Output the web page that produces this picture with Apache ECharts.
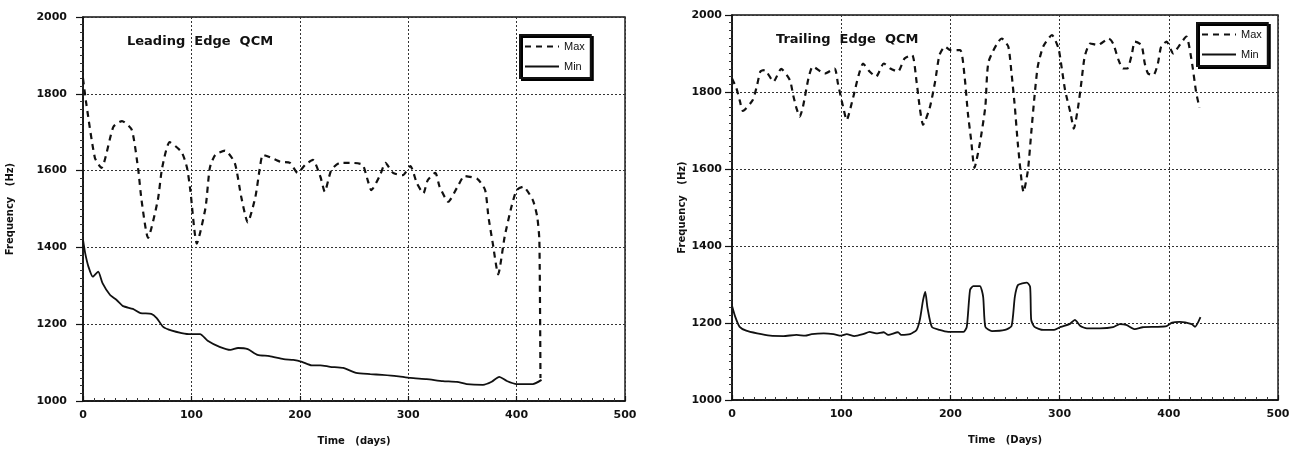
<!DOCTYPE html>
<html>
<head>
<meta charset="utf-8">
<script src="https://cdn.jsdelivr.net/npm/echarts@6/dist/echarts.min.js"></script>
<style>
html,body{margin:0;padding:0;background:#fff;}
#chart{width:1301px;height:452px;}
</style>
</head>
<body>
<div id="chart"></div>
<script>
// ---- Data ----
const xTicks = [0, 100, 200, 300, 400, 500];
const yTicks = [1000, 1200, 1400, 1600, 1800, 2000];
const seriesNames = ['Max', 'Min'];

// Leading Edge QCM — Max (dashed)
const leadMaxDays = [0, 3, 11, 17, 28, 36, 45, 51, 54, 60, 69, 73, 80, 91, 96, 99, 105, 113, 117, 122, 131, 140, 146, 152, 159, 163, 166, 174, 182, 191, 198, 205, 212, 219, 223, 229, 237, 249, 258, 262, 266, 274, 279, 286, 295, 302, 308, 314, 318, 325, 329, 337, 345, 352, 364, 371, 374, 378, 383, 389, 395, 400, 406, 415, 419, 421, 422];
const leadMaxVals = [1840, 1775, 1633, 1607, 1714, 1729, 1706, 1601, 1523, 1425, 1523, 1607, 1674, 1648, 1607, 1549, 1410, 1503, 1607, 1641, 1652, 1620, 1531, 1465, 1531, 1604, 1641, 1633, 1623, 1620, 1594, 1615, 1628, 1584, 1545, 1601, 1620, 1620, 1615, 1581, 1549, 1588, 1620, 1594, 1588, 1612, 1567, 1541, 1575, 1594, 1558, 1519, 1555, 1586, 1578, 1549, 1480, 1411, 1330, 1428, 1503, 1549, 1558, 1523, 1480, 1419, 1060];

// Leading Edge QCM — Min (solid)
const leadMinDays = [0, 2, 5, 9, 14, 18, 25, 31, 37, 46, 53, 63, 68, 74, 82, 91, 99, 108, 115, 126, 136, 143, 152, 161, 172, 185, 194, 202, 211, 219, 228, 240, 252, 265, 276, 289, 302, 317, 332, 345, 354, 369, 377, 384, 391, 400, 415, 423];
const leadMinVals = [1420, 1385, 1350, 1324, 1337, 1307, 1276, 1263, 1247, 1240, 1229, 1227, 1216, 1193, 1183, 1177, 1174, 1174, 1157, 1141, 1133, 1138, 1135, 1120, 1117, 1109, 1107, 1102, 1093, 1093, 1089, 1086, 1073, 1070, 1068, 1065, 1060, 1057, 1052, 1050, 1044, 1042, 1050, 1063, 1052, 1044, 1044, 1055];

// Trailing Edge QCM — Max (dashed)
const trailMaxDays = [0, 4, 7, 10, 19, 23, 26, 30, 38, 45, 53, 56, 59, 62, 65, 70, 74, 85, 94, 97, 102, 105, 110, 113, 116, 120, 126, 132, 139, 145, 152, 158, 165, 169, 172, 175, 181, 186, 190, 195, 200, 209, 213, 216, 219, 222, 227, 232, 235, 247, 253, 256, 259, 262, 267, 271, 274, 277, 280, 285, 293, 299, 302, 305, 310, 313, 317, 320, 323, 328, 335, 345, 349, 354, 358, 362, 366, 369, 375, 378, 381, 386, 390, 393, 398, 404, 409, 416, 421, 425, 428];
const trailMaxVals = [1835, 1810, 1779, 1751, 1779, 1818, 1853, 1857, 1827, 1860, 1831, 1792, 1758, 1736, 1762, 1835, 1866, 1848, 1861, 1822, 1758, 1727, 1775, 1810, 1844, 1874, 1853, 1840, 1874, 1861, 1853, 1887, 1896, 1827, 1758, 1715, 1758, 1827, 1896, 1918, 1909, 1909, 1840, 1745, 1675, 1603, 1667, 1762, 1879, 1939, 1918, 1848, 1762, 1658, 1540, 1597, 1693, 1788, 1866, 1918, 1948, 1913, 1861, 1805, 1745, 1705, 1762, 1827, 1892, 1926, 1922, 1939, 1926, 1883, 1861, 1861, 1896, 1931, 1922, 1874, 1848, 1844, 1874, 1918, 1931, 1900, 1918, 1944, 1880, 1800, 1760];

// Trailing Edge QCM — Min (solid)
const trailMinDays = [0, 3, 7, 13, 23, 35, 47, 59, 67, 73, 84, 93, 100, 105, 112, 120, 126, 132, 139, 143, 152, 155, 163, 169, 172, 175, 177, 179, 183, 190, 198, 212, 215, 218, 221, 227, 230, 232, 238, 250, 256, 259, 262, 270, 273, 274, 277, 285, 295, 301, 309, 314, 319, 325, 337, 349, 355, 361, 369, 376, 389, 398, 403, 410, 421, 424, 429];
const trailMinVals = [1245, 1216, 1190, 1180, 1173, 1167, 1166, 1169, 1167, 1171, 1173, 1171, 1167, 1171, 1166, 1171, 1177, 1173, 1176, 1169, 1176, 1169, 1171, 1182, 1208, 1260, 1281, 1240, 1190, 1182, 1177, 1177, 1190, 1286, 1296, 1296, 1268, 1190, 1179, 1182, 1192, 1268, 1299, 1305, 1294, 1208, 1190, 1182, 1182, 1190, 1197, 1208, 1192, 1186, 1186, 1189, 1197, 1195, 1184, 1189, 1190, 1192, 1201, 1203, 1197, 1190, 1215];

const panelTitles = ['Leading  Edge  QCM', 'Trailing  Edge  QCM'];
const xNames = ['Time   (days)', 'Time   (Days)'];
const yName = 'Frequency   (Hz)';

// ---- Chart ----
const pair = (d, v) => d.map((x, i) => [x, v[i]]);
const FONT = 'DejaVu Sans';
const INK = '#111';

function xAxis(idx, name) {
  return {
    type: 'value', gridIndex: idx, min: xTicks[0], max: xTicks[xTicks.length - 1], interval: 100,
    name: name, nameLocation: 'middle', nameGap: 35,
    nameTextStyle: { fontFamily: FONT, fontWeight: 'bold', fontSize: 10, color: INK },
    axisLine: { show: true, lineStyle: { color: INK, width: 1.6 } },
    axisTick: { show: true, inside: true, length: 5, lineStyle: { color: INK, width: 1.2 } },
    minorTick: { show: true, splitNumber: 10, length: 3, lineStyle: { color: '#333', width: 1 } },
    axisLabel: { fontFamily: FONT, fontWeight: 'bold', fontSize: 11, color: INK, margin: 9, formatter: v => String(v) },
    splitLine: { show: true, lineStyle: { color: '#333', type: [2, 2], width: 1 } }
  };
}
function yAxis(idx, gap, margin) {
  return {
    type: 'value', gridIndex: idx, min: yTicks[0], max: yTicks[yTicks.length - 1], interval: 200,
    name: yName, nameLocation: 'middle', nameRotate: 90, nameGap: gap,
    nameTextStyle: { fontFamily: FONT, fontWeight: 'bold', fontSize: 10, color: INK },
    axisLine: { show: true, lineStyle: { color: INK, width: 1.6 } },
    axisTick: { show: true, inside: false, length: 7, lineStyle: { color: INK, width: 1.2 } },
    minorTick: { show: true, splitNumber: 10, length: 3, lineStyle: { color: '#333', width: 1 } },
    axisLabel: { fontFamily: FONT, fontWeight: 'bold', fontSize: 11, color: INK, margin: margin, formatter: v => String(v) },
    splitLine: { show: true, lineStyle: { color: '#333', type: [2, 2], width: 1 } }
  };
}
function legend(left, top) {
  return {
    orient: 'vertical', left: left, top: top, data: seriesNames,
    align: 'left', itemWidth: 34, itemHeight: 10, itemGap: 9,
    padding: [6, 6, 6, 4],
    backgroundColor: '#fff', borderColor: INK, borderWidth: 2,
    shadowColor: '#000', shadowOffsetX: 2, shadowOffsetY: 2, shadowBlur: 0,
    itemStyle: { opacity: 0 },
    textStyle: { fontFamily: 'Liberation Sans', fontSize: 11, color: INK },
    selectedMode: false
  };
}
function line(name, idx, data, dashed) {
  return {
    type: 'line', name: name, xAxisIndex: idx, yAxisIndex: idx,
    data: data, symbol: 'none', smooth: 0.2, animation: false,
    lineStyle: { color: INK, width: dashed ? 2.2 : 1.8, type: dashed ? [6, 5] : 'solid' },
    itemStyle: { color: INK }
  };
}

const chart = echarts.init(document.getElementById('chart'), null, { renderer: 'canvas' });
chart.setOption({
  animation: false,
  backgroundColor: '#fff',
  grid: [
    { left: 83, top: 17, width: 542, height: 384, show: true, borderColor: INK, borderWidth: 1.4 },
    { left: 732, top: 15, width: 546, height: 385, show: true, borderColor: INK, borderWidth: 1.4 }
  ],
  title: [
    { text: panelTitles[0], left: 127, top: 35, padding: 0, textStyle: { fontFamily: FONT, fontWeight: 'bold', fontSize: 13, color: INK } },
    { text: panelTitles[1], left: 776, top: 33, padding: 0, textStyle: { fontFamily: FONT, fontWeight: 'bold', fontSize: 13, color: INK } }
  ],
  legend: [legend(520, 35), legend(1197, 23)],
  xAxis: [xAxis(0, xNames[0]), xAxis(1, xNames[1])],
  yAxis: [yAxis(0, 68, 16), yAxis(1, 40, 10)],
  series: [
    line('Max', 0, pair(leadMaxDays, leadMaxVals), true),
    line('Min', 0, pair(leadMinDays, leadMinVals), false),
    line('Max', 1, pair(trailMaxDays, trailMaxVals), true),
    line('Min', 1, pair(trailMinDays, trailMinVals), false)
  ]
});
</script>
</body>
</html>
